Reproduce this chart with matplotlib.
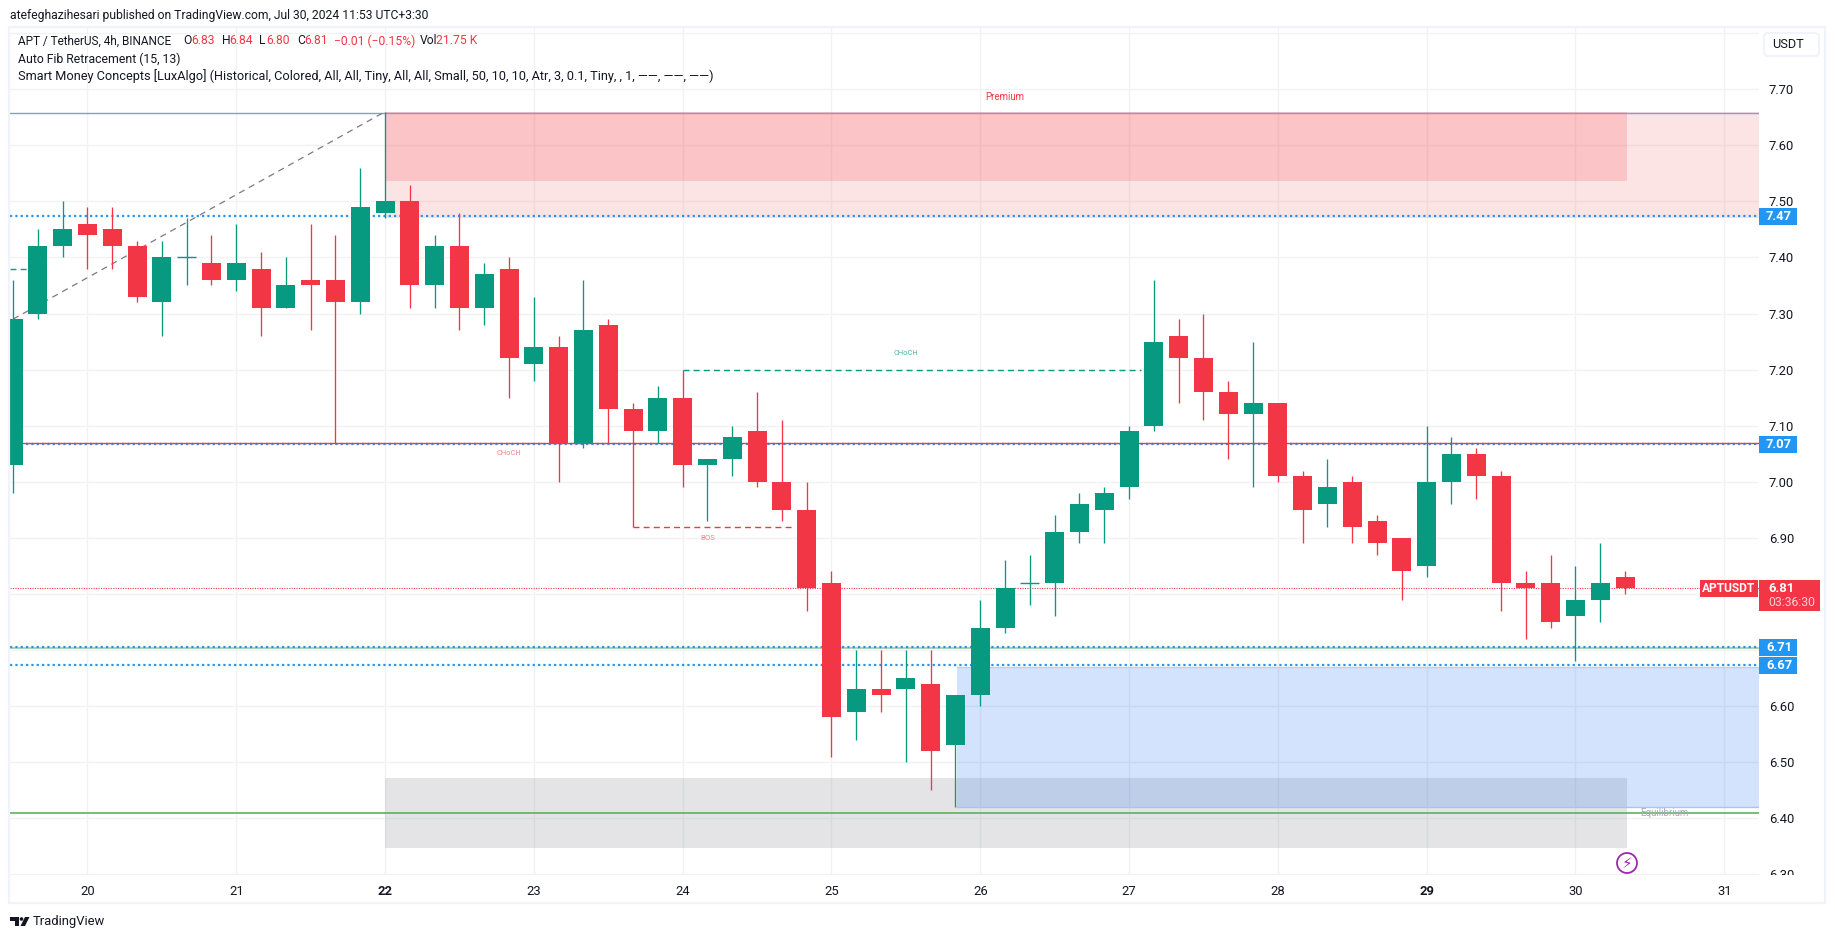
import matplotlib
matplotlib.use('Agg')
import matplotlib.pyplot as plt
from matplotlib.patches import Rectangle, Circle, Polygon, FancyBboxPatch
from matplotlib.transforms import Bbox

# 4h candles
opens = [7.03, 7.30, 7.42, 7.46, 7.45, 7.42, 7.32, 7.40, 7.39, 7.36, 7.38, 7.31, 7.36, 7.36, 7.32, 7.48,
         7.50, 7.35, 7.42, 7.31, 7.38, 7.21, 7.24, 7.07, 7.28, 7.13, 7.09, 7.15, 7.03, 7.04, 7.09, 7.00,
         6.95, 6.82, 6.59, 6.63, 6.63, 6.64, 6.53, 6.62, 6.74, 6.82, 6.82, 6.91, 6.95, 6.99, 7.10, 7.26,
         7.22, 7.16, 7.12, 7.14, 7.01, 6.96, 7.00, 6.93, 6.90, 6.85, 7.00, 7.05, 7.01, 6.82, 6.82, 6.76,
         6.79, 6.83]
highs = [7.36, 7.45, 7.50, 7.49, 7.49, 7.43, 7.43, 7.47, 7.44, 7.46, 7.41, 7.40, 7.46, 7.44, 7.56, 7.66,
         7.53, 7.44, 7.48, 7.39, 7.40, 7.33, 7.26, 7.36, 7.29, 7.14, 7.17, 7.20, 7.04, 7.10, 7.16, 7.11,
         7.00, 6.84, 6.70, 6.70, 6.70, 6.70, 6.62, 6.79, 6.86, 6.87, 6.94, 6.98, 6.99, 7.10, 7.36, 7.29,
         7.30, 7.18, 7.25, 7.14, 7.02, 7.04, 7.01, 6.94, 6.90, 7.10, 7.08, 7.06, 7.02, 6.84, 6.87, 6.85,
         6.89, 6.84]
lows = [6.98, 7.29, 7.40, 7.38, 7.38, 7.32, 7.26, 7.35, 7.35, 7.34, 7.26, 7.31, 7.27, 7.07, 7.30, 7.47,
        7.31, 7.31, 7.27, 7.28, 7.15, 7.18, 7.00, 7.06, 7.07, 6.92, 7.07, 6.99, 6.93, 7.01, 6.99, 6.93,
        6.77, 6.51, 6.54, 6.59, 6.50, 6.45, 6.42, 6.60, 6.73, 6.78, 6.76, 6.89, 6.89, 6.97, 7.09, 7.14,
        7.11, 7.04, 6.99, 7.00, 6.89, 6.92, 6.89, 6.87, 6.79, 6.83, 6.96, 6.97, 6.77, 6.72, 6.74, 6.68,
        6.75, 6.80]
closes = [7.29, 7.42, 7.45, 7.44, 7.42, 7.33, 7.40, 7.40, 7.36, 7.39, 7.31, 7.35, 7.35, 7.32, 7.49, 7.50,
          7.35, 7.42, 7.31, 7.37, 7.22, 7.24, 7.07, 7.27, 7.13, 7.09, 7.15, 7.03, 7.04, 7.08, 7.00, 6.95,
          6.81, 6.58, 6.63, 6.62, 6.65, 6.52, 6.62, 6.74, 6.81, 6.82, 6.91, 6.96, 6.98, 7.09, 7.25, 7.22,
          7.16, 7.12, 7.14, 7.01, 6.95, 6.99, 6.92, 6.89, 6.84, 7.00, 7.05, 7.01, 6.82, 6.81, 6.75, 6.79,
          6.82, 6.81]

day_ticks = [3, 9, 15, 21, 27, 33, 39, 45, 51, 57, 63, 69]
day_labels = ['20', '21', '22', '23', '24', '25', '26', '27', '28', '29', '30', '31']
price_ticks = [6.3, 6.4, 6.5, 6.6, 6.7, 6.8, 6.9, 7.0, 7.1, 7.2, 7.3, 7.4, 7.5, 7.6, 7.7]
# 6.70 and 6.80 sit under the price tags in the original
price_labels = ['6.30', '6.40', '6.50', '6.60', '', '', '6.90', '7.00', '7.10', '7.20', '7.30', '7.40',
                '7.50', '7.60', '7.70']
blue_levels = [7.474, 7.067, 6.706, 6.673]

GREEN = '#089981'
RED = '#F23645'
BLUE = '#2196F3'
TEXT = '#131722'
FONT = 'Roboto'

plt.rcParams['font.family'] = [FONT, 'DejaVu Sans']

W, H = 1835, 939
fig = plt.figure(figsize=(W / 100, H / 100), dpi=100, facecolor='white')

# plot area in pixels
L, R, T, B = 9.7, 1759, 27, 875
ax = fig.add_axes([L / W, 1 - B / H, (R - L) / W, (B - T) / H], facecolor='none')
x0, x1 = -0.137, 70.4
ax.set_xlim(x0, x1)
ax.set_ylim(6.2987, 7.811)

ax.set_xticks(day_ticks)
ax.set_xticklabels(day_labels)
ax.set_yticks(price_ticks)
ax.set_yticklabels(price_labels)
ax.set_yticks([7.8], minor=True)
ax.yaxis.tick_right()
ax.tick_params(axis='both', which='both', length=0)
ax.tick_params(axis='y', pad=7, labelsize=9.4, labelcolor=TEXT)
ax.tick_params(axis='x', pad=7, labelsize=9.4, labelcolor=TEXT)
ax.grid(True, which='both', color='#f1f2f4', linewidth=1.0, zorder=0)
ax.set_axisbelow(True)
for s in ax.spines.values():
    s.set_visible(False)
for lb in ax.get_xticklabels():
    if lb.get_text() in ('22', '29'):
        lb.set_fontweight('bold')
for lb in ax.get_yticklabels():
    if lb.get_text() == '6.30':
        lb.set_clip_box(Bbox([[1759, H - 875], [1835, H - 860]]))
        lb.set_clip_on(True)

# zones
ax.add_patch(Rectangle((15, 7.47), x1 - 15, 0.19, fc='#f24b4b', alpha=0.15, lw=0, zorder=1))
ax.add_patch(Rectangle((15, 7.536), 50.08, 0.124, fc=RED, alpha=0.18, lw=0, zorder=1))
ax.add_patch(Rectangle((15, 6.347), 50.08, 0.125, fc='#787b86', alpha=0.2, lw=0, zorder=1))
ax.add_patch(Rectangle((38.05, 6.42), x1 - 38.05, 0.25, fc='#2873f5', alpha=0.2, lw=0, zorder=1))
ax.plot([38.05, x1], [6.42, 6.42], color='#a9c4f2', lw=1, zorder=2)
ax.plot([38.05, x1], [6.67, 6.67], color='#b9cff5', lw=1, zorder=2)

# fib / structure lines
ax.plot([x0, x1], [7.658, 7.658], color='#8b9bc8', lw=1.0, zorder=2)
ax.plot([0, 15], [7.29, 7.66], color='#787b86', lw=0.9, ls=(0, (5, 4)), zorder=2)
ax.plot([x0, x1], [6.409, 6.409], color='#4caf50', lw=1.1, zorder=2)
ax.plot([x0, x1], [6.703, 6.703], color='#8fca92', lw=1.1, zorder=2)
for lvl in blue_levels:
    ax.plot([x0, x1], [lvl, lvl], color=BLUE, lw=1.6, ls=(0, (1, 1.4)), zorder=2.5)
ax.plot([x0, x1], [7.07, 7.07], color=RED, lw=1.0, zorder=3)
ax.plot([x0, x1], [6.81, 6.81], color=RED, lw=0.8, ls=(0, (1, 1.2)), zorder=2.5)

ax.plot([x0, 1], [7.38, 7.38], color=GREEN, lw=1, ls=(0, (4.3, 3)), zorder=2)
ax.plot([27, 45.5], [7.20, 7.20], color=GREEN, lw=1, ls=(0, (4.3, 3)), zorder=2)
ax.plot([25, 31.4], [6.92, 6.92], color=RED, lw=1, ls=(0, (4.3, 3)), zorder=2)

ax.text(36, 7.228, 'CHoCH', color='#4db6a4', fontsize=5.4, ha='center', va='center')
ax.text(20, 7.05, 'CHoCH', color='#f7838d', fontsize=5.4, ha='center', va='center')
ax.text(28, 6.90, 'BOS', color='#f7838d', fontsize=5.6, ha='center', va='center')
ax.text(40, 7.686, 'Premium', color=RED, fontsize=7.0, ha='center', va='center')
ax.text(66.6, 6.409, 'Equilibrium', color='#a8abb5', fontsize=7.0, ha='center', va='center')

# candles
for i, (o, h, l, c) in enumerate(zip(opens, highs, lows, closes)):
    col = GREEN if c >= o else RED
    ax.vlines(i, l, h, color=col, lw=0.95, zorder=4)
    if o == c:
        ax.hlines(o, i - 0.385, i + 0.385, color=col, lw=1.0, zorder=4)
    else:
        ax.bar(i, abs(c - o), bottom=min(o, c), width=0.77, color=col, lw=0, zorder=4)

# chrome on a pixel axes
px = fig.add_axes([0, 0, 1, 1], facecolor='none', zorder=5)
px.set_xlim(0, W)
px.set_ylim(H, 0)
px.axis('off')

px.add_patch(Rectangle((9, 27), 1816, 876, fc='none', ec='#f0f3fa', lw=1.6))
px.add_patch(FancyBboxPatch((1764, 33), 55, 23, boxstyle='round,pad=0,rounding_size=4', fc='white', ec='#f0f3fa', lw=1.5))
px.text(1772, 44.5, 'USDT', color=TEXT, fontsize=9.2, va='center')

px.text(10, 15, 'atefeghazihesari published on TradingView.com, Jul 30, 2024 11:53 UTC+3:30', color=TEXT,
        fontsize=8.7, va='center')

px.text(18, 41, 'APT / TetherUS, 4h, BINANCE', color=TEXT, fontsize=8.45, va='center')
for xp, s in [(183, 'O'), (221.5, 'H'), (259, 'L'), (297, 'C'), (420, 'Vol')]:
    px.text(xp, 41, s, color=TEXT, fontsize=8.7, va='center')
for xp, s in [(191, '6.83'), (229.5, '6.84'), (266.6, '6.80'), (304, '6.81'), (334, '−0.01 (−0.15%)'), (436, '21.75 K')]:
    px.text(xp, 41, s, color=RED, fontsize=8.7, va='center')
px.text(18, 59, 'Auto Fib Retracement (15, 13)', color=TEXT, fontsize=8.85, va='center')
px.text(18, 76, 'Smart Money Concepts [LuxAlgo] (Historical, Colored, All, All, Tiny, All, All, Small, 50, 10, 10, Atr, 3, 0.1, Tiny, , 1, ——, ——, ——)',
        color=TEXT, fontsize=9.2, va='center')

# price labels
for lab, top, bot in [('7.47', 208, 224.5), ('7.07', 436, 452.7), ('6.71', 639, 656), ('6.67', 657, 674)]:
    px.add_patch(Rectangle((1759, top), 38, bot - top, fc=BLUE, lw=0))
    px.text(1779, (top + bot) / 2, lab, color='white', fontsize=9.4, fontweight='bold', ha='center', va='center')

px.add_patch(Rectangle((1700, 580), 58, 17, fc=RED, lw=0))
px.text(1729, 588.5, 'APTUSDT', color='white', fontsize=8.6, fontweight='bold', ha='center', va='center')
px.add_patch(Rectangle((1759, 580), 61, 31, fc=RED, lw=0))
px.text(1768, 589, '6.81', color='white', fontsize=9.4, fontweight='bold', va='center')
px.text(1768, 602.5, '03:36:30', color='#fbd0d4', fontsize=8.8, va='center')

# lightning icon
px.add_patch(Circle((1627, 863), 10, fc='white', ec='#9c27b0', lw=1.3))
px.text(1627, 863, '⚡', color='#9c27b0', fontsize=11, family='DejaVu Sans', ha='center', va='center')

# footer logo
px.add_patch(Polygon([(10, 917), (19, 917), (19, 926), (15, 926), (15, 920.5), (10, 920.5)], fc=TEXT, lw=0))
px.add_patch(Circle((21.5, 919), 1.8, fc=TEXT, lw=0))
px.add_patch(Polygon([(25, 917), (29.5, 917), (25, 926), (20.5, 926)], fc=TEXT, lw=0))
px.text(33, 921.5, 'TradingView', color=TEXT, fontsize=9.4, va='center')

fig.savefig('out.png', dpi=100)
